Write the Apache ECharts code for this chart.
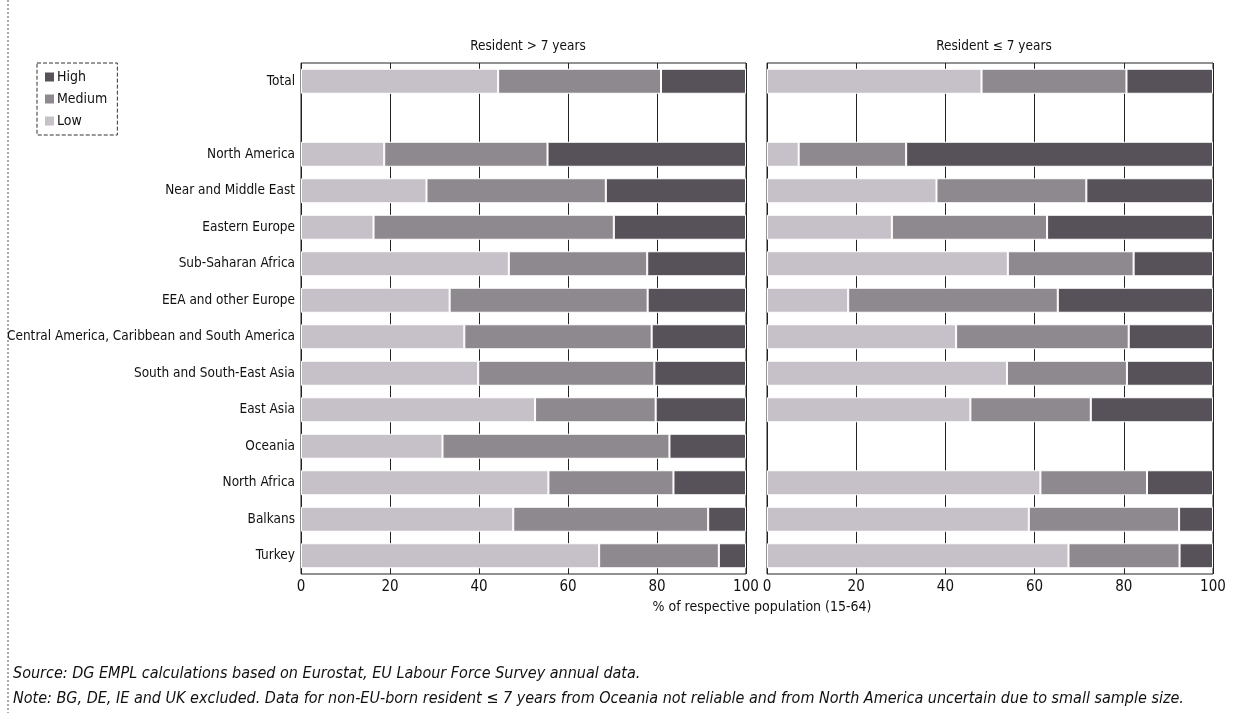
<!DOCTYPE html>
<html>
<head>
<meta charset="utf-8">
<script src="https://cdn.jsdelivr.net/npm/echarts@6/dist/echarts.min.js"></script>
<style>
html,body{margin:0;padding:0;background:#fff;}
#chart{width:1247px;height:713px;}
</style>
</head>
<body>
<div id="chart"></div>
<script>
// ---- Data ----
const categories = ['Total', '', 'North America', 'Near and Middle East', 'Eastern Europe', 'Sub-Saharan Africa',
  'EEA and other Europe', 'Central America, Caribbean and South America', 'South and South-East Asia',
  'East Asia', 'Oceania', 'North Africa', 'Balkans', 'Turkey'];
const xTicks = [0, 20, 40, 60, 80, 100];
// Resident > 7 years (segment shares, %)
const lowGt7    = [44.3, null, 18.7, 28.2, 16.3, 46.7, 33.4, 36.7, 39.8, 52.6, 31.8, 55.6, 47.7, 67.0];
const mediumGt7 = [36.6, null, 36.7, 40.3, 54.0, 31.1, 44.5, 42.1, 39.6, 27.1, 51.0, 28.1, 43.8, 26.9];
const highGt7   = [19.1, null, 44.6, 31.5, 29.7, 22.2, 22.1, 21.2, 20.6, 20.3, 17.2, 16.3,  8.5,  6.1];
// Resident <= 7 years (segment shares, %)
const lowLe7    = [48.1, null,  7.1, 38.0, 28.0, 54.0, 18.2, 42.4, 53.8, 45.6, null, 61.3, 58.7, 67.6];
const mediumLe7 = [32.5, null, 24.1, 33.6, 34.8, 28.2, 47.0, 38.7, 26.9, 27.0, null, 23.9, 33.7, 24.9];
const highLe7   = [19.4, null, 68.8, 28.4, 37.2, 17.8, 34.8, 18.9, 19.3, 27.4, null, 14.8,  7.6,  7.5];
const panelTitles = ['Resident > 7 years', 'Resident \u2264 7 years'];
const xAxisTitle = '% of respective population (15-64)';
const sourceText = 'Source: DG EMPL calculations based on Eurostat, EU Labour Force Survey annual data.';
const noteText = 'Note: BG, DE, IE and UK excluded. Data for non-EU-born resident \u2264 7 years from Oceania not reliable and from North America uncertain due to small sample size.';

// ---- Style ----
const FONT = '"Liberation Sans Narrow", "DejaVu Sans Condensed", sans-serif';
const colors = { Low: '#c6c1c8', Medium: '#8e898e', High: '#57525a' };
const grids = [
  { left: 301, width: 445, top: 63, height: 511 },
  { left: 767, width: 446, top: 63, height: 511 }
];

const chart = echarts.init(document.getElementById('chart'));

function xAxisDef(i) {
  return {
    type: 'value', gridIndex: i, min: 0, max: 100, interval: 20,
    axisLine: { show: false }, axisTick: { show: false },
    splitLine: { show: true, lineStyle: { color: '#222', width: 1 } },
    axisLabel: { color: '#111', fontFamily: FONT, fontSize: 15, margin: 6,
      formatter: v => xTicks.includes(v) ? String(v) : '' }
  };
}
function yAxisDef(i) {
  return {
    type: 'category', gridIndex: i, data: categories, inverse: true,
    axisLine: { show: false }, axisTick: { show: false },
    axisLabel: { show: i === 0, color: '#111', fontFamily: FONT, fontSize: 13.5, margin: 6 }
  };
}
function barSeries(name, data, i) {
  return {
    name, type: 'bar', stack: 'p' + i, xAxisIndex: i, yAxisIndex: i, data,
    barWidth: 25,
    itemStyle: { color: colors[name], borderColor: '#fff', borderWidth: 1 },
    emphasis: { disabled: true }
  };
}

chart.setOption({
  animation: false,
  backgroundColor: '#fff',
  title: [
    { text: panelTitles[0], left: 523, top: 34, textAlign: 'center',
      textStyle: { fontFamily: FONT, fontSize: 13.5, fontWeight: 'normal', color: '#111' } },
    { text: panelTitles[1], left: 989, top: 34, textAlign: 'center',
      textStyle: { fontFamily: FONT, fontSize: 13.5, fontWeight: 'normal', color: '#111' } },
    { text: xAxisTitle, left: 757, top: 595, textAlign: 'center',
      textStyle: { fontFamily: FONT, fontSize: 14, fontWeight: 'normal', color: '#111' } },
    { text: sourceText, left: 8, top: 661,
      textStyle: { fontFamily: FONT, fontSize: 16, fontStyle: 'italic', fontWeight: 'normal', color: '#111' } },
    { text: noteText, left: 8, top: 686,
      textStyle: { fontFamily: FONT, fontSize: 16, fontStyle: 'italic', fontWeight: 'normal', color: '#111' } }
  ],
  legend: {
    data: ['High', 'Medium', 'Low'], orient: 'vertical', left: 37, top: 63,
    itemWidth: 11, itemHeight: 11, itemGap: 8, padding: [7, 10, 7, 6],
    borderColor: '#333', borderWidth: 1, borderType: 'dashed',
    textStyle: { fontFamily: FONT, fontSize: 14, color: '#111', padding: [0, 0, 0, -3] },
    icon: 'rect'
  },
  grid: grids.map(g => Object.assign({ show: true, borderColor: '#222', borderWidth: 1,
    backgroundColor: 'transparent', containLabel: false, outerBoundsMode: 'none' }, g)),
  xAxis: [xAxisDef(0), xAxisDef(1)],
  yAxis: [yAxisDef(0), yAxisDef(1)],
  graphic: [{
    type: 'line', shape: { x1: 8, y1: 0, x2: 8, y2: 713 },
    style: { stroke: '#555', lineWidth: 1, lineDash: [2, 2] }
  }],
  series: [
    barSeries('Low', lowGt7, 0), barSeries('Medium', mediumGt7, 0), barSeries('High', highGt7, 0),
    barSeries('Low', lowLe7, 1), barSeries('Medium', mediumLe7, 1), barSeries('High', highLe7, 1)
  ]
});
</script>
</body>
</html>
